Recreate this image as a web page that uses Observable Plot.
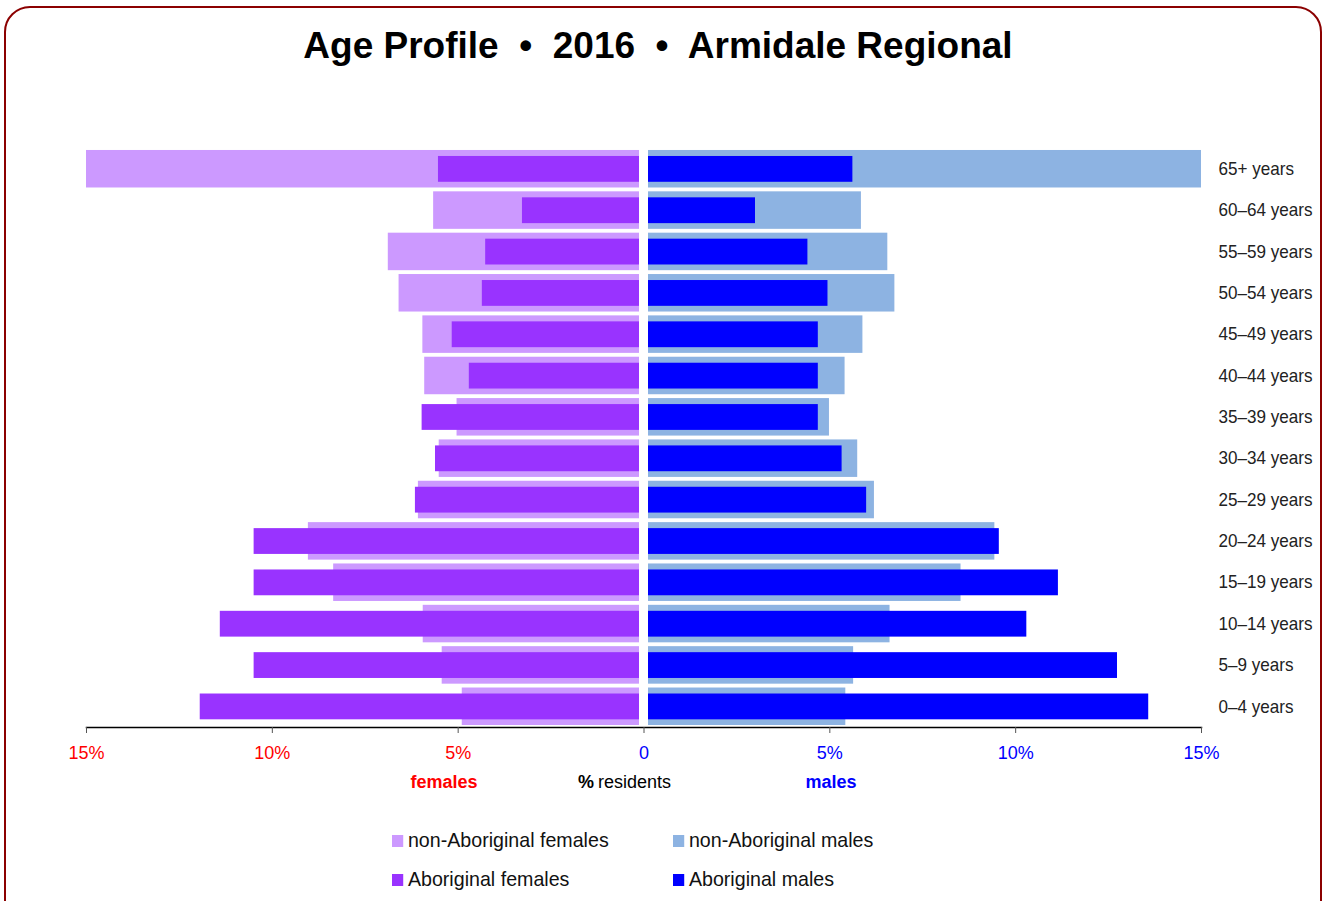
<!DOCTYPE html>
<html>
<head>
<meta charset="utf-8">
<script src="https://cdn.jsdelivr.net/npm/d3@7"></script>
<script src="https://cdn.jsdelivr.net/npm/@observablehq/plot@0.6"></script>
<style>
  html, body { margin: 0; padding: 0; background: #fff; }
  body { width: 1326px; height: 901px; position: relative; overflow: hidden;
         font-family: "Liberation Sans", Arial, sans-serif; }
  #border { position: absolute; left: 4px; top: 6px; width: 1318px; height: 940px;
            border: 2.5px solid #8b0000; border-radius: 26px; box-sizing: border-box; }
  #title { position: absolute; left: 0; top: 24px; width: 1316px; text-align: center;
           font-weight: bold; font-size: 37px; color: #000; line-height: 44px; }
  #chart { position: absolute; left: 0; top: 0; }
  .leg { position: absolute; font-size: 21px; color: #111; line-height: 24px; white-space: nowrap;
         transform: scaleX(0.935); transform-origin: left center; }
  .leg span.sw { display: inline-block; width: 12px; height: 12px; margin-right: 5px; vertical-align: 0px; }
</style>
</head>
<body>
<div id="border"></div>
<div id="title">Age Profile &nbsp;•&nbsp; 2016 &nbsp;•&nbsp; Armidale Regional</div>
<div id="chart"></div>
<div class="leg" style="left:392px; top:828px;"><span class="sw" style="background:#cc99ff"></span>non-Aboriginal females</div>
<div class="leg" style="left:673px; top:828px;"><span class="sw" style="background:#8db3e2"></span>non-Aboriginal males</div>
<div class="leg" style="left:392px; top:867px;"><span class="sw" style="background:#9933ff"></span>Aboriginal females</div>
<div class="leg" style="left:673px; top:867px;"><span class="sw" style="background:#0000ff"></span>Aboriginal males</div>
<script>
const ageGroups = ["65+ years","60–64 years","55–59 years","50–54 years","45–49 years","40–44 years","35–39 years","30–34 years","25–29 years","20–24 years","15–19 years","10–14 years","5–9 years","0–4 years"];
const nonAbFemales = [15.0, 5.66, 6.88, 6.59, 5.95, 5.90, 5.03, 5.51, 6.07, 9.03, 8.35, 5.94, 5.43, 4.89];
const abFemales    = [5.53, 3.27, 4.26, 4.35, 5.16, 4.70, 5.97, 5.61, 6.15, 10.49, 10.49, 11.40, 10.49, 11.94];
const nonAbMales   = [15.0, 5.85, 6.56, 6.75, 5.89, 5.41, 4.99, 5.75, 6.20, 9.44, 8.53, 6.62, 5.64, 5.43];
const abMales      = [5.62, 3.00, 4.41, 4.95, 4.69, 4.69, 4.69, 5.33, 5.99, 9.56, 11.15, 10.30, 12.74, 13.58];
const femaleTicks = [-15, -10, -5];
const maleTicks = [0, 5, 10, 15];

const rows = ageGroups.map((age, i) => ({
  age, nonAbF: nonAbFemales[i], abF: abFemales[i], nonAbM: nonAbMales[i], abM: abMales[i]
}));

const chart = Plot.plot({
  width: 1326,
  height: 800,
  marginLeft: 86,
  marginRight: 125,
  marginTop: 148,
  marginBottom: 73,
  style: { fontFamily: '"Liberation Sans", Arial, sans-serif', fontSize: "18px", background: "transparent", overflow: "visible" },
  x: { domain: [-15, 15] },
  y: { domain: ageGroups, paddingInner: 0.093, paddingOuter: 0.048, round: false },
  marks: [
    Plot.barX(rows, { y: "age", x1: d => -d.nonAbF, x2: 0, fill: "#cc99ff", insetRight: 4.5 }),
    Plot.barX(rows, { y: "age", x1: 0, x2: "nonAbM", fill: "#8db3e2", insetLeft: 4.5 }),
    Plot.barX(rows, { y: "age", x1: d => -d.abF, x2: 0, fill: "#9933ff", insetRight: 4.5, insetTop: 6, insetBottom: 5.7 }),
    Plot.barX(rows, { y: "age", x1: 0, x2: "abM", fill: "#0000ff", insetLeft: 4.5, insetTop: 6, insetBottom: 5.7 }),
    Plot.frame({ anchor: "bottom", stroke: "#000", strokeWidth: 1.5 }),
    Plot.axisX(femaleTicks, { tickFormat: d => Math.abs(d) + "%", fill: "#ff0000", stroke: "#555", tickSize: 6, tickPadding: 13, fontSize: 18, label: null }),
    Plot.axisX(maleTicks, { tickFormat: d => d === 0 ? "0" : d + "%", fill: "#0000ff", stroke: "#555", tickSize: 6, tickPadding: 13, fontSize: 18, label: null }),
    Plot.axisY({ anchor: "right", tickSize: 0, tickPadding: 17, fill: "#222", fontSize: 18, label: null }),
    Plot.text(["females"], { x: 0, frameAnchor: "bottom", dy: 60, dx: -200, fill: "#ff0000", fontWeight: "bold", fontSize: 18 }),
    Plot.text(["%"], { x: 0, frameAnchor: "bottom", dy: 60, dx: -50, textAnchor: "end", fill: "#000", fontWeight: "bold", fontSize: 18 }),
    Plot.text(["residents"], { x: 0, frameAnchor: "bottom", dy: 60, dx: -46, textAnchor: "start", fill: "#000", fontSize: 18 }),
    Plot.text(["males"], { x: 0, frameAnchor: "bottom", dy: 60, dx: 187, fill: "#0000ff", fontWeight: "bold", fontSize: 18 })
  ]
});
// slightly condense the age labels to match the narrow face of the original
d3.select(chart).selectAll('g[aria-label="y-axis tick label"] text').each(function() {
  const t = this.getAttribute("transform") || "";
  this.setAttribute("transform", t + " scale(0.95,1)");
});
document.getElementById("chart").appendChild(chart);
</script>
</body>
</html>
